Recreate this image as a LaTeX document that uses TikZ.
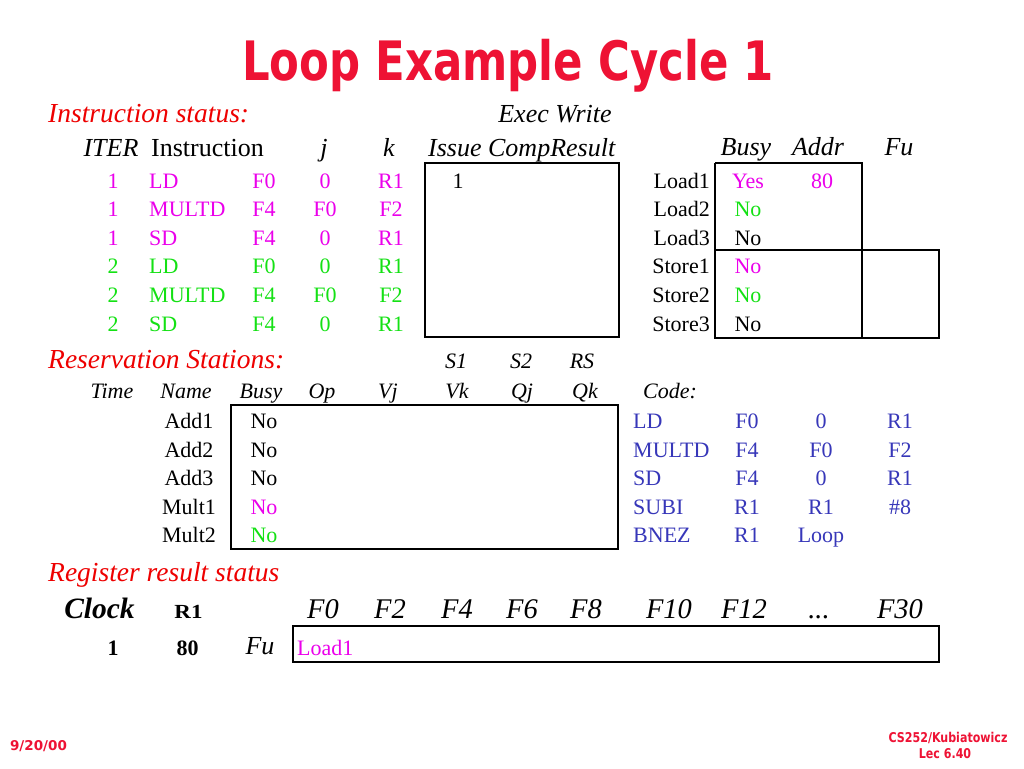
\documentclass[tikz,border=0pt]{standalone}
\usepackage{fontspec}
\setmainfont{Liberation Serif}
\newfontfamily\titlefont{DejaVu Sans}
\definecolor{titlered}{RGB}{238,18,52}
\definecolor{hdred}{RGB}{238,0,0}
\definecolor{mag}{RGB}{235,0,235}
\definecolor{grn}{RGB}{20,225,20}
\definecolor{codeblue}{RGB}{55,55,185}
\tikzset{
  txt/.style={inner sep=0pt, anchor=base, font=\fontsize{22}{22}\selectfont},
  txtl/.style={txt, anchor=base west},
  txtr/.style={txt, anchor=base east},
  hdr/.style={inner sep=0pt, anchor=base, font=\fontsize{26}{26}\selectfont\itshape},
  rsh/.style={inner sep=0pt, anchor=base, font=\fontsize{22}{22}\selectfont\itshape},
  sec/.style={inner sep=0pt, anchor=base west, font=\fontsize{27.5}{27.5}\selectfont\itshape, text=hdred},
  freg/.style={inner sep=0pt, anchor=base, font=\fontsize{28.5}{28.5}\selectfont\itshape},
  bnum/.style={inner sep=0pt, anchor=base, font=\fontsize{22}{22}\selectfont\bfseries},
  tbox/.style={draw=black, line width=1.6pt},
  foot/.style={inner sep=0pt, anchor=base, text=titlered, font=\titlefont\bfseries\fontsize{13.5}{13.5}\selectfont}
}
\begin{document}
\begin{tikzpicture}[x=1pt,y=-1pt]
\useasboundingbox[fill=white] (0,0) rectangle (1024,768);

% title
\node (title) at (508,80) [anchor=base, inner sep=0pt, text=titlered]
  {\scalebox{0.775}[0.97]{\titlefont\bfseries\fontsize{56}{56}\selectfont Loop Example Cycle 1}};

% ---------------- Instruction status
\node (secis) at (48,122) [sec] {Instruction status:};
\node (hexw) at (555,122) [hdr] {Exec Write};
\node (hiter) at (111,156) [hdr] {ITER};
\node (hinstr) at (151,156) [hdr, anchor=base west, font=\fontsize{26}{26}\selectfont] {Instruction};
\node (hj) at (324,156) [hdr] {j};
\node (hk) at (389,156) [hdr] {k};
\node (hicr) at (428,156) [hdr, anchor=base west] {Issue CompResult};

\foreach \va/\vb/\vc/\vd/\ve/\col [count=\i] in
  {1/LD/F0/0/R1/mag, 1/MULTD/F4/F0/F2/mag, 1/SD/F4/0/R1/mag,
   2/LD/F0/0/R1/grn, 2/MULTD/F4/F0/F2/grn, 2/SD/F4/0/R1/grn}{
  \pgfmathsetmacro{\yy}{188+(\i-1)*28.6}
  \node (iter\i) at (113,\yy) [txt, text=\col] {\va};
  \node (inop\i) at (149,\yy) [txtl, text=\col] {\vb};
  \node (indst\i) at (264,\yy) [txt, text=\col] {\vc};
  \node (inj\i) at (325,\yy) [txt, text=\col] {\vd};
  \node (ink\i) at (391,\yy) [txt, text=\col] {\ve};
}
\draw[tbox] (425,163) rectangle (619,337);
\node (issue1) at (458,188) [txt] {1};

% load / store buffers
\node (hbusy) at (746,155) [hdr] {Busy};
\node (haddr) at (818,155) [hdr] {Addr};
\node (hfu) at (899,155) [hdr] {Fu};
\foreach \nm/\bz/\col [count=\i] in
  {Load1/Yes/mag, Load2/No/grn, Load3/No/black, Store1/No/mag, Store2/No/grn, Store3/No/black}{
  \pgfmathsetmacro{\yy}{188+(\i-1)*28.6}
  \node (buf\i) at (710,\yy) [txtr] {\nm};
  \node (bufbusy\i) at (748,\yy) [txt, text=\col] {\bz};
}
\node (bufaddr1) at (822,188) [txt, text=mag] {80};
\draw[tbox] (715,163) -- (862,163) -- (862,338);
\draw[tbox] (715,163) -- (715,338) -- (939,338) -- (939,250) -- (715,250);

% ---------------- Reservation stations
\node (secrs) at (48,368) [sec] {Reservation Stations:};
\node (hs1) at (456,368) [rsh] {S1};
\node (hs2) at (521,368) [rsh] {S2};
\node (hrs) at (582,368) [rsh] {RS};
\foreach \lab/\xx [count=\i] in {Time/112, Name/186, Busy/261, Op/322, Vj/388, Vk/457, Qj/522, Qk/585}{
  \node (rsh\i) at (\xx,398) [rsh] {\lab};
}
\foreach \nm/\col [count=\i] in {Add1/black, Add2/black, Add3/black, Mult1/mag, Mult2/grn}{
  \pgfmathsetmacro{\yy}{428.5+(\i-1)*28.5}
  \node (rsname\i) at (189,\yy) [txt] {\nm};
  \node (rsbusy\i) at (264,\yy) [txt, text=\col] {No};
}
\draw[tbox] (231,405) rectangle (618,549);

% code
\node (hcode) at (643,398) [rsh, anchor=base west] {Code:};
\foreach \ca/\cb/\cc/\cd [count=\i] in
  {LD/F0/0/R1, MULTD/F4/F0/F2, SD/F4/0/R1, SUBI/R1/R1/\#8, BNEZ/R1/Loop/}{
  \pgfmathsetmacro{\yy}{428.5+(\i-1)*28.5}
  \node (cop\i) at (633,\yy) [txtl, text=codeblue] {\ca};
  \node (ca\i) at (747,\yy) [txt, text=codeblue] {\cb};
  \node (cb\i) at (821,\yy) [txt, text=codeblue] {\cc};
  \node (cc\i) at (900,\yy) [txt, text=codeblue] {\cd};
}

% ---------------- Register result status
\node (secrr) at (48,581) [sec] {Register result status};
\node (hclock) at (99.5,618) [inner sep=0pt, anchor=base, font=\fontsize{29.5}{29.5}\selectfont\bfseries\itshape] {Clock};
\node (hr1) at (188.5,618) [bnum, font=\fontsize{20}{20}\selectfont\bfseries] {\scalebox{1.15}[1]{R1}};
\foreach \lab/\xx [count=\i] in {F0/323, F2/390, F4/457, F6/522, F8/586, F10/669, F12/744}{
  \node (freg\i) at (\xx,618) [freg] {\lab};
}
\node (fregdots) at (819,618) [freg] {.\kern0pt.\kern0pt.};
\node (freg30) at (900,618) [freg] {F30};
\node (clk) at (113,655) [bnum] {1};
\node (r1val) at (187.5,655) [bnum] {80};
\node (hfu2) at (260,654) [hdr] {Fu};
\draw[tbox] (293,626) rectangle (939,662);
\node (fu0) at (297,655) [txtl, text=mag] {Load1};

% footer
\node (date) at (38.5,750) [foot] {9/20/00};
\node (course) at (948,742) [foot] {\scalebox{0.82}[1]{CS252/Kubiatowicz}};
\node (lec) at (945,758) [foot] {\scalebox{0.82}[1]{Lec 6.40}};
\end{tikzpicture}
\end{document}
